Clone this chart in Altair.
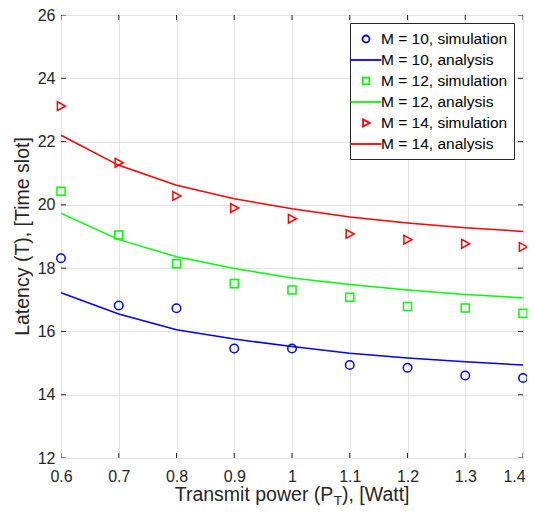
import altair as alt
import pandas as pd

power = [0.6, 0.7, 0.8, 0.9, 1.0, 1.1, 1.2, 1.3, 1.4]

sim_m10 = [18.31, 16.82, 16.73, 15.46, 15.46, 14.94, 14.85, 14.61, 14.53]
ana_m10 = [17.22, 16.55, 16.05, 15.76, 15.52, 15.31, 15.16, 15.04, 14.94]
sim_m12 = [20.43, 19.05, 18.14, 17.51, 17.31, 17.08, 16.79, 16.74, 16.57]
ana_m12 = [19.73, 18.90, 18.36, 17.99, 17.69, 17.48, 17.31, 17.17, 17.06]
sim_m14 = [23.12, 21.33, 20.28, 19.90, 19.56, 19.08, 18.90, 18.77, 18.67]
ana_m14 = [22.20, 21.25, 20.62, 20.19, 19.88, 19.62, 19.43, 19.28, 19.16]

series_names = [
    "M = 10, simulation", "M = 10, analysis",
    "M = 12, simulation", "M = 12, analysis",
    "M = 14, simulation", "M = 14, analysis",
]
series_values = [sim_m10, ana_m10, sim_m12, ana_m12, sim_m14, ana_m14]
series_colors = ["#0000ff", "#0000ff", "#00ff00", "#00ff00", "#ff0000", "#ff0000"]

CIRCLE = "M0.39,0A0.39,0.39,0,1,1,-0.39,0A0.39,0.39,0,1,1,0.39,0Z"
SQUARE = "M-0.37,-0.37H0.37V0.37H-0.37Z"
TRIANGLE = "M-0.33,-0.4L0.4,0L-0.33,0.4Z"
LINE = "M-1.7,0H1.7"
series_shapes = [CIRCLE, LINE, SQUARE, LINE, TRIANGLE, LINE]

x_ticks = [0.6, 0.7, 0.8, 0.9, 1.0, 1.1, 1.2, 1.3, 1.4]
y_ticks = [12, 14, 16, 18, 20, 22, 24, 26]

rows = []
for name, vals in zip(series_names, series_values):
    for xv, yv in zip(power, vals):
        rows.append({"power": xv, "latency": yv, "series": name,
                     "kind": "sim" if "simulation" in name else "ana"})
df = pd.DataFrame(rows)
sim_df = df[df["kind"] == "sim"]
ana_df = df[df["kind"] == "ana"]

FONT = "Liberation Sans"
DARK = "#262626"

x_enc = alt.X("power:Q", scale=alt.Scale(domain=[0.6, 1.4], nice=False, zero=False),
              axis=alt.Axis(values=x_ticks, format="~g", title=None, grid=True,
                            gridColor="#e3e3e3", tickSize=0, domain=False,
                            labelFlush=False, labelOverlap=False,
                            labelOffset={"condition": {"test": "datum.value > 1.35", "value": -9},
                                         "value": 0},
                            labelFont=FONT, labelFontSize=16, labelColor=DARK,
                            labelPadding=10))
y_enc = alt.Y("latency:Q", scale=alt.Scale(domain=[12, 26], nice=False, zero=False),
              axis=alt.Axis(values=y_ticks, title="Latency (T), [Time slot]", grid=True,
                            gridColor="#e3e3e3", tickSize=0, domain=False,
                            labelFlush=False, labelOverlap=False,
                            labelFont=FONT, labelFontSize=16, labelColor=DARK,
                            labelPadding=6, titleFont=FONT, titleFontSize=19.5,
                            titleFontWeight="normal", titleColor=DARK,
                            titleAngle=270, titleBaseline="alphabetic",
                            titleX=-33, titleY=221, titleAlign="center"))

color_scale = alt.Scale(domain=series_names, range=series_colors)
shape_scale = alt.Scale(domain=series_names, range=series_shapes)
legend = alt.Legend(title=None, orient="none", legendX=289, legendY=8,
                    fillColor="white", strokeColor=DARK, padding=6,
                    symbolSize=324, symbolStrokeWidth=1.8, rowPadding=2,
                    labelOffset=5, labelFont=FONT, labelFontSize=15.5,
                    labelColor="#000000", symbolType="circle")

lines = alt.Chart(ana_df).mark_line(strokeWidth=1.5).encode(
    x=x_enc, y=y_enc,
    color=alt.Color("series:N", scale=color_scale, legend=legend),
)
points = alt.Chart(sim_df).mark_point(filled=False, size=475, strokeWidth=1.5, opacity=1).encode(
    x=x_enc, y=y_enc,
    color=alt.Color("series:N", scale=color_scale, legend=legend),
    shape=alt.Shape("series:N", scale=shape_scale, legend=legend),
)

xt_df = pd.DataFrame({"power": x_ticks * 2, "latency": [12] * len(x_ticks) + [26] * len(x_ticks)})
yt_df = pd.DataFrame({"power": [0.6] * len(y_ticks) + [1.4] * len(y_ticks), "latency": y_ticks * 2})
xticks = alt.Chart(xt_df).mark_tick(orient="vertical", size=10, thickness=1, color=DARK,
                                    clip=True, opacity=1).encode(x="power:Q", y="latency:Q")
yticks = alt.Chart(yt_df).mark_tick(orient="horizontal", size=10, thickness=1, color=DARK,
                                    clip=True, opacity=1).encode(x="power:Q", y="latency:Q")

one = pd.DataFrame({"k": [0]})
t1 = alt.Chart(one).mark_text(text="Transmit power (P", align="right", baseline="alphabetic",
                              font=FONT, fontSize=19.5, color=DARK).encode(
    x=alt.value(272.3), y=alt.value(486))
t2 = alt.Chart(one).mark_text(text="T", align="left", baseline="alphabetic",
                              font=FONT, fontSize=13.5, color=DARK).encode(
    x=alt.value(272.8), y=alt.value(490))
t3 = alt.Chart(one).mark_text(text="), [Watt]", align="left", baseline="alphabetic",
                              font=FONT, fontSize=19.5, color=DARK).encode(
    x=alt.value(281), y=alt.value(486))

chart = alt.layer(xticks, yticks, lines, points, t1, t2, t3).properties(
    width=462, height=443,
    padding={"left": 53, "top": 7, "right": 4, "bottom": 50},
    autosize=alt.AutoSizeParams(type="none"),
).configure_view(stroke=DARK, strokeWidth=1).configure(background="white")

chart.save("out.html", embed_options={"renderer": "svg", "actions": False})
